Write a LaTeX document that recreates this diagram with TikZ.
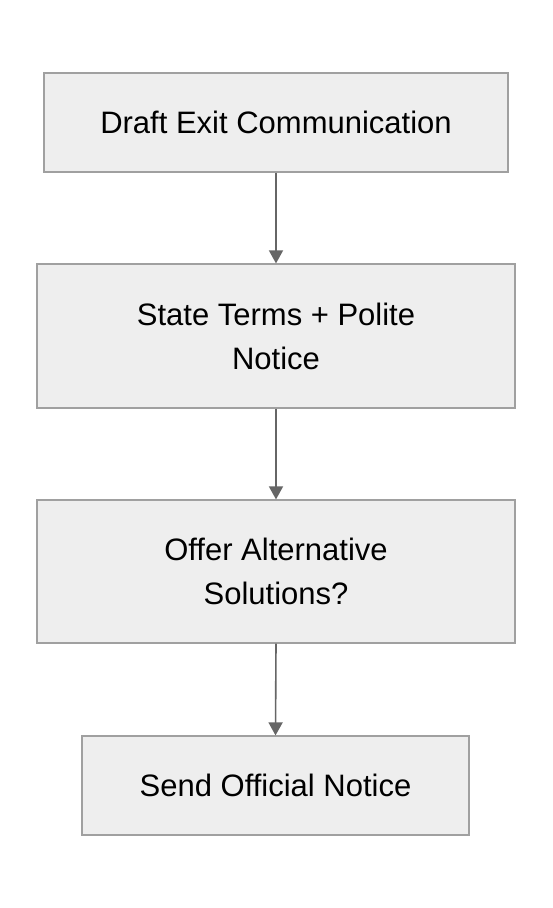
\documentclass[tikz,border=0pt]{standalone}
\usepackage{fontspec}
\setmainfont{Liberation Sans}
\usetikzlibrary{arrows.meta}
\begin{document}
\begin{tikzpicture}[x=1pt,y=-1pt,
  box/.style={draw=boxborder, fill=boxfill, line width=1.2pt, align=center, font=\fontsize{31}{44}\selectfont, inner sep=0pt},
  conn/.style={draw=arrowgray, line width=1.6pt, -{Triangle[length=13pt,width=14pt]}}]
\definecolor{boxfill}{HTML}{EEEEEE}
\definecolor{boxborder}{HTML}{A0A0A0}
\definecolor{arrowgray}{HTML}{666666}
\useasboundingbox (0,0) rectangle (552,908);
\node[box, minimum width=464pt, minimum height=99pt] (a) at (276,122.5) {Draft Exit Communication};
\node[box, minimum width=478pt, minimum height=144pt] (b) at (276,336) {State Terms + Polite\\Notice};
\node[box, minimum width=478pt, minimum height=143pt] (c) at (276,571.5) {Offer Alternative\\Solutions?};
\node[box, minimum width=387pt, minimum height=99pt] (d) at (275.5,785.5) {Send Official Notice};
\draw[conn] (a.south) -- (b.north);
\draw[conn] (b.south) -- (c.north);
\draw[conn] (c.south) -- (d.north);
\end{tikzpicture}
\end{document}
